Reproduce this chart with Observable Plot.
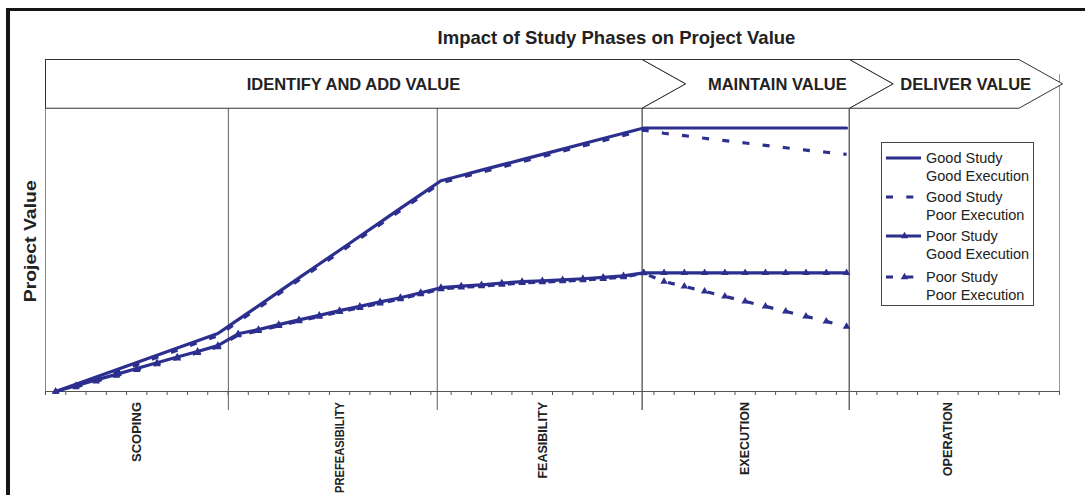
<!DOCTYPE html>
<html>
<head>
<meta charset="utf-8">
<script src="https://cdn.jsdelivr.net/npm/d3@7"></script>
<script src="https://cdn.jsdelivr.net/npm/@observablehq/plot@0.6"></script>
<style>
  body { margin: 0; background: #fff; font-family: "Liberation Sans", Arial, sans-serif; }
  #wrap { position: relative; width: 1085px; height: 495px; overflow: hidden; background: #fff; }
  #frame { position: absolute; left: 6px; top: 8px; width: 2000px; height: 2000px;
           border-left: 4px solid #151515; border-top: 3.5px solid #151515; pointer-events: none; }
  #legend { position: absolute; left: 881px; top: 142px; width: 153px; height: 164px;
            border: 1px solid #444; background: #fff; box-sizing: border-box; }
  .item { position: absolute; left: 0; width: 150px; height: 36px; }
  .item svg { position: absolute; left: 4px; top: 4px; overflow: visible; }
  .item .lbl { position: absolute; left: 44px; top: 0; font-size: 14.5px; line-height: 18px;
               white-space: nowrap; color: #222; }
</style>
</head>
<body>
<div id="wrap">
  <div id="chart"></div>
  <div id="legend"></div>
  <div id="frame"></div>
</div>
<script>
// ---------- data ----------
const chartTitle = "Impact of Study Phases on Project Value";
const yTitle = "Project Value";
const slotCount = 50;                                     // category slots on the x axis
const phaseNames = ["SCOPING", "PREFEASIBILITY", "FEASIBILITY", "EXECUTION", "OPERATION"];
const phaseLabelSlot = [4, 14, 24, 34, 44];
const phaseDividers = [8.52, 18.82, 28.92, 39.13];        // phase boundaries (slot units)
const headerNames = ["IDENTIFY AND ADD VALUE", "MAINTAIN VALUE", "DELIVER VALUE"];
const headerStart = [-0.5, 28.92, 39.15];
const headerEnd = [28.92, 39.15, 47.5];

const seriesNames = [
  ["Good Study", "Good Execution"],
  ["Good Study", "Poor Execution"],
  ["Poor Study", "Good Execution"],
  ["Poor Study", "Poor Execution"]
];
const goodGood = [0, 2.75, 5.5, 8.25, 11, 13.75, 16.5, 19.25, 22,
  27.3, 32.5, 37.8, 43.1, 48.4, 53.6, 58.9, 64.2, 69.5, 74.7, 80,
  82, 84, 86, 88, 90, 92, 94, 96, 98, 100,
  100, 100, 100, 100, 100, 100, 100, 100, 100, 100];
const goodPoor = [0, 2.0, 4.7, 7.5, 10.2, 13.0, 15.7, 18.5, 21.2,
  26.5, 31.7, 37.0, 42.3, 47.6, 52.8, 58.1, 63.4, 68.7, 73.9, 79.2,
  81.2, 83.2, 85.2, 87.2, 89.2, 91.2, 93.2, 95.2, 97.2, 99.2,
  98.0, 97.1, 96.1, 95.2, 94.3, 93.4, 92.5, 91.6, 90.8, 90.0];
const poorGood = [0, 2.2, 4.4, 6.5, 8.7, 10.9, 13.1, 15.2, 17.4,
  21.9, 23.5, 25.4, 27.2, 28.9, 30.7, 32.3, 34.0, 35.6, 37.5, 39.4,
  40.0, 40.5, 41.1, 41.7, 42.0, 42.4, 42.8, 43.3, 43.9, 45.0,
  45.0, 45.0, 45.0, 45.0, 45.0, 45.0, 45.0, 45.0, 45.0, 45.0];
const poorPoor = [0, 1.7, 3.9, 6.0, 8.2, 10.4, 12.6, 14.7, 16.9,
  21.4, 23.0, 24.9, 26.7, 28.4, 30.2, 31.8, 33.5, 35.1, 37.0, 38.9,
  39.5, 40.0, 40.6, 41.2, 41.5, 41.9, 42.3, 42.8, 43.4, 44.9,
  41.7, 39.9, 38.0, 36.1, 34.2, 32.3, 30.4, 28.5, 26.6, 24.6];

// ---------- layout / style ----------
const navy = "#2c2f8e";
const dash = "7,13.3";
const yMax = 126, bandBottom = 107.5, bandMid = 116.75;
const tipDepth = 2.15;
const phaseLabelLength = [60, 91, 76.6, 73, 74.3];

const rows = vals => vals.map((v, i) => ({i, v}));

// chevron outlines
const chevrons = [];
headerNames.forEach((name, k) => {
  const s = headerStart[k], e = headerEnd[k];
  const pts = [[s, yMax], [e, yMax], [e + tipDepth, bandMid], [e, bandBottom], [s, bandBottom]];
  if (k > 0) pts.push([s + tipDepth, bandMid]);
  pts.push([s, yMax]);
  pts.forEach(([x, y]) => chevrons.push({k, x, y}));
});
const headerLabels = headerNames.map((name, k) => ({
  name,
  x: ((k > 0 ? headerStart[k] + tipDepth : headerStart[k]) + headerEnd[k] + tipDepth) / 2 - 0.6
}));

const plot = Plot.plot({
  width: 1085,
  height: 495,
  marginLeft: 45,
  marginRight: 26,
  marginTop: 59,
  marginBottom: 104,
  style: {fontFamily: '"Liberation Sans", Arial, sans-serif', background: "transparent", overflow: "visible"},
  x: {domain: [-0.5, slotCount - 0.5]},
  y: {domain: [0, yMax], axis: null},
  marks: [
    // plot-area borders
    Plot.ruleX([-0.5], {y1: 0, y2: bandBottom, stroke: "#888", strokeWidth: 1}),
    Plot.ruleX([slotCount - 0.5], {y1: 0, y2: 120.3, stroke: "#9a9a9a", strokeWidth: 1}),
    // phase dividers
    Plot.ruleX(phaseDividers, {y1: -7.2, y2: bandBottom, stroke: (d, i) => i < 2 ? "#777" : "#444", strokeWidth: 1.2}),
    // chevrons
    Plot.line(chevrons, {x: "x", y: "y", z: "k", fill: "white", stroke: "#333", strokeWidth: 1, curve: "linear"}),
    Plot.text(headerLabels, {x: "x", y: bandMid, text: "name", fontSize: 16.5, fontWeight: "bold", dy: 1, fill: "#222"}),
    // title and y title
    Plot.text([chartTitle], {frameAnchor: "top-left", dx: 571, dy: -21.6, lineAnchor: "middle", fontSize: 18.5, fontWeight: "bold", textAnchor: "middle", fill: "#222"}),
    Plot.text([yTitle], {frameAnchor: "left", dx: -14.6, dy: 15.8, rotate: -90, lineAnchor: "middle", fontSize: 16, fontWeight: "bold", textAnchor: "middle", fill: "#222"}),
    // x axis
    Plot.ruleY([0], {x1: -0.5, x2: slotCount - 0.5, stroke: "#555", strokeWidth: 1}),
    Plot.axisX({ticks: d3.range(slotCount + 1).map(k => k - 0.5), tickSize: 4, tickFormat: () => "", stroke: "#555"}),
    Plot.text(phaseNames, {x: (d, i) => phaseLabelSlot[i], y: 0, text: d => d, rotate: -90, textAnchor: "end", dy: 10.5, fontSize: 13.5, fontWeight: "bold", fill: "#222"}),
    // series
    Plot.line(rows(goodPoor), {x: "i", y: "v", stroke: navy, strokeWidth: 3.2, strokeDasharray: dash, strokeLinecap: "butt"}),
    Plot.line(rows(poorPoor), {x: "i", y: "v", stroke: navy, strokeWidth: 3.2, strokeDasharray: dash, strokeLinecap: "butt"}),
    Plot.dot(rows(poorPoor), {x: "i", y: "v", symbol: "triangle", r: 2.8, fill: navy}),
    Plot.line(rows(goodGood), {x: "i", y: "v", stroke: navy, strokeWidth: 3.2}),
    Plot.line(rows(poorGood), {x: "i", y: "v", stroke: navy, strokeWidth: 3.2}),
    Plot.dot(rows(poorGood), {x: "i", y: "v", symbol: "triangle", r: 2.8, fill: navy})
  ]
});
document.getElementById("chart").appendChild(plot);
d3.select(plot).selectAll("text").each(function() {
  const t = this.textContent;
  if (t === yTitle) d3.select(this).attr("textLength", 122).attr("lengthAdjust", "spacingAndGlyphs");
  const k = phaseNames.indexOf(t);
  if (k >= 0) d3.select(this).attr("textLength", phaseLabelLength[k]).attr("lengthAdjust", "spacingAndGlyphs");
});

// ---------- legend ----------
const legendStyles = [
  {dash: null, marker: false},
  {dash: dash, marker: false},
  {dash: null, marker: true},
  {dash: dash, marker: true}
];
const legendTops = [5.6, 45, 84.3, 124.8];
const legend = d3.select("#legend");
const tri = d3.symbol(d3.symbolTriangle, Math.PI * 2.8 * 2.8)();
seriesNames.forEach((lines, k) => {
  const item = legend.append("div").attr("class", "item").style("top", legendTops[k] + "px");
  const svg = item.append("svg").attr("width", 35).attr("height", 10);
  svg.append("line").attr("x1", 0).attr("x2", 35).attr("y1", 5).attr("y2", 5)
    .attr("stroke", navy).attr("stroke-width", 3.2)
    .attr("stroke-dasharray", legendStyles[k].dash).attr("stroke-linecap", "butt");
  if (legendStyles[k].marker) svg.append("path").attr("d", tri).attr("transform", "translate(18.5,5)").attr("fill", navy);
  item.append("div").attr("class", "lbl").html(lines.join("<br>"));
});
</script>
</body>
</html>
